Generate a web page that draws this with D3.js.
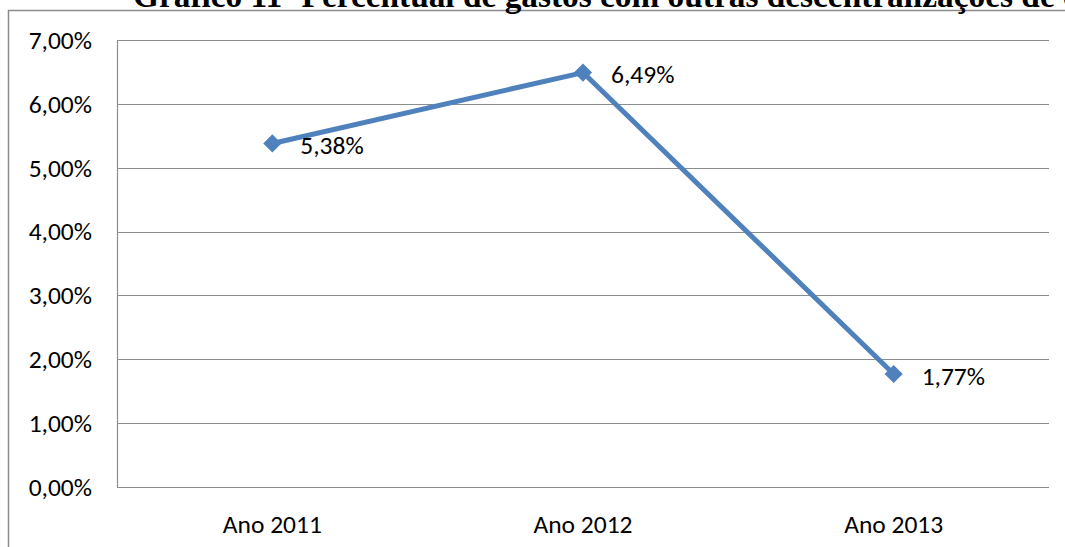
<!DOCTYPE html>
<head>
  <meta charset="utf-8">
  <script src="https://d3js.org/d3.v7.min.js"></script>
  <style>
    body { margin: 0; background: #fff; overflow: hidden; }
    .tick-label, .point-label { font-family: Carlito, "Open Sans", "Liberation Sans", sans-serif; font-size: 25.5px; fill: #000; }
    .title { font-family: "Liberation Serif", "DejaVu Serif", serif; font-weight: bold; fill: #000; }
  </style>
</head>
<body>
<script>
  // chart data
  var categories = ['Ano 2011', 'Ano 2012', 'Ano 2013'];
  var values = [5.38, 6.49, 1.77];
  var yTicks = [0, 1, 2, 3, 4, 5, 6, 7];
  var titleText = 'Gráfico 11- Percentual de gastos com outras descentralizações de crédito';

  var outerWidth = 1065, outerHeight = 547;
  var margin = { top: 40, left: 117, right: 16, bottom: 60 };
  var width = outerWidth - margin.left - margin.right,
    height = outerHeight - margin.top - margin.bottom;

  var fmt = function(v) { return v.toFixed(2).replace('.', ',') + '%'; };

  var svg = d3.select('body').append('svg')
    .attr('width', outerWidth)
    .attr('height', outerHeight);

  // outer frame (top and left edges visible)
  svg.append('path')
    .attr('d', 'M8.5,' + outerHeight + 'V10.5H' + outerWidth)
    .attr('fill', 'none')
    .attr('stroke', '#8c8c8c')
    .attr('stroke-width', 1.5);

  // title, cut off by the top of the page
  var title = svg.append('text')
    .attr('class', 'title')
    .attr('x', 133)
    .attr('y', 6.5)
    .style('font-size', '22px')
    .text(titleText);
  // scale so that the part before "crédito" spans like in the picture
  var probe = svg.append('text').attr('class', 'title').style('font-size', '22px')
    .text('Gráfico 11- Percentual de gastos com outras descentralizações de ');
  var w = probe.node().getComputedTextLength();
  probe.remove();
  title.style('font-size', (22 * 922 / w) + 'px');

  var g = svg.append('g')
    .attr('transform', 'translate(' + margin.left + ',' + margin.top + ')');

  var xScale = d3.scaleBand().domain(categories).range([0, width]);
  var yScale = d3.scaleLinear().domain([0, 7]).range([height, 0]);

  // gridlines
  g.selectAll('.grid').data(yTicks).enter().append('line')
    .attr('x1', 0).attr('x2', width)
    .attr('y1', function(d) { return Math.round(yScale(d)) + 0.5; })
    .attr('y2', function(d) { return Math.round(yScale(d)) + 0.5; })
    .attr('stroke', '#8c8c8c')
    .attr('stroke-width', 1.2);

  // y axis line
  g.append('line')
    .attr('x1', 0.5).attr('x2', 0.5)
    .attr('y1', Math.round(yScale(7))).attr('y2', Math.round(yScale(0)) + 0.5)
    .attr('stroke', '#8c8c8c').attr('stroke-width', 1.2);

  // y tick labels
  g.selectAll('.ylab').data(yTicks).enter().append('text')
    .attr('class', 'tick-label')
    .attr('x', -25)
    .attr('y', function(d) { return yScale(d); })
    .attr('dy', '0.35em')
    .attr('text-anchor', 'end')
    .text(fmt);

  // x labels
  g.selectAll('.xlab').data(categories).enter().append('text')
    .attr('class', 'tick-label')
    .attr('x', function(d) { return xScale(d) + xScale.bandwidth() / 2; })
    .attr('y', height + 37)
    .attr('dy', '0.35em')
    .attr('text-anchor', 'middle')
    .text(function(d) { return d; });

  var pts = categories.map(function(c, i) { return { cat: c, v: values[i] }; });
  var px = function(d) { return xScale(d.cat) + xScale.bandwidth() / 2; };

  var line = d3.line().x(px).y(function(d) { return yScale(d.v); });

  g.append('path')
    .datum(pts)
    .attr('d', line)
    .attr('fill', 'none')
    .attr('stroke', '#4f81bd')
    .attr('stroke-width', 5)
    .attr('stroke-linejoin', 'round');

  // diamond markers: squares turned 45 degrees
  g.selectAll('.marker').data(pts).enter().append('path')
    .attr('d', d3.symbol().type(d3.symbolSquare).size(165))
    .attr('transform', function(d) { return 'translate(' + px(d) + ',' + yScale(d.v) + ') rotate(45)'; })
    .attr('fill', '#4f81bd');

  g.selectAll('.plab').data(pts).enter().append('text')
    .attr('class', 'point-label')
    .attr('x', function(d) { return px(d) + 28; })
    .attr('y', function(d) { return yScale(d.v) + 2; })
    .attr('dy', '0.35em')
    .text(function(d) { return fmt(d.v); });
</script>
</body>
